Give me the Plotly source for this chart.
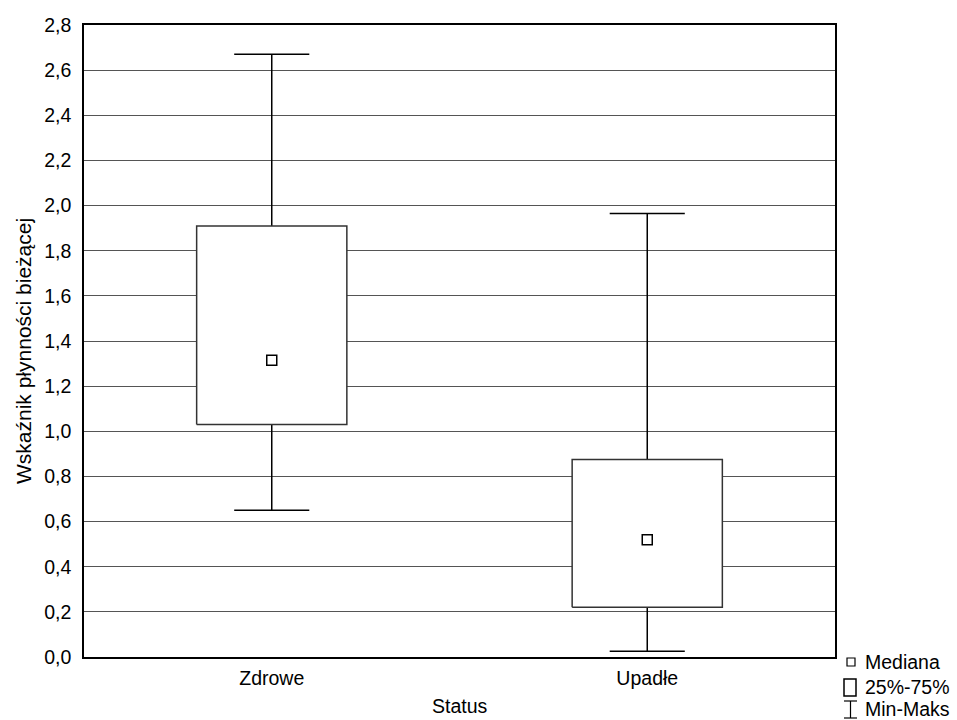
import plotly.graph_objects as go

categories = ["Zdrowe", "Upadłe"]
minimum = [0.65, 0.025]
q1 = [1.03, 0.22]
median = [1.315, 0.52]
q3 = [1.91, 0.875]
maximum = [2.67, 1.965]
y_ticks = [0.0, 0.2, 0.4, 0.6, 0.8, 1.0, 1.2, 1.4, 1.6, 1.8, 2.0, 2.2, 2.4, 2.6, 2.8]

FONT = "Liberation Sans, Arial, sans-serif"
FS = 19.5
box_half = 0.2
cap_half = 0.1

L, R, T, B = 84, 835, 25, 657
PW, PH = R - L, B - T


def px(x):
    return (x - L) / PW


def py(y):
    return (B - y) / PH


fig = go.Figure()
xs = list(range(len(categories)))

# whiskers (behind boxes)
wx, wy = [], []
for i in xs:
    wx += [i, i, None, i - cap_half, i + cap_half, None, i, i, None, i - cap_half, i + cap_half, None]
    wy += [q3[i], maximum[i], None, maximum[i], maximum[i], None, q1[i], minimum[i], None, minimum[i], minimum[i], None]
fig.add_trace(go.Scatter(x=wx, y=wy, mode="lines", line=dict(color="black", width=1.5),
                         hoverinfo="skip", showlegend=False))

# boxes
for i in xs:
    fig.add_trace(go.Scatter(
        x=[i - box_half, i + box_half, i + box_half, i - box_half, i - box_half],
        y=[q1[i], q1[i], q3[i], q3[i], q1[i]],
        mode="lines", fill="toself", fillcolor="white",
        line=dict(color="#333333", width=1.5), showlegend=False, hoverinfo="skip"))

# medians
fig.add_trace(go.Scatter(x=xs, y=median, mode="markers",
                         marker=dict(symbol="square-open", size=10, color="black",
                                     line=dict(width=1.5, color="black")),
                         showlegend=False))

fig.update_layout(
    width=957, height=720,
    margin=dict(l=L, r=957 - R, t=T, b=720 - B),
    paper_bgcolor="white", plot_bgcolor="white",
    separators=",.",
    font=dict(family=FONT, size=FS, color="black"),
    showlegend=False,
)
fig.update_xaxes(range=[-0.5, 1.5], tickvals=xs, ticktext=categories, showgrid=False,
                 zeroline=False, showline=True, linecolor="black", linewidth=1.5, mirror=True,
                 ticks="", ticklabelstandoff=3, tickfont=dict(family=FONT, size=FS))
fig.update_yaxes(range=[0, 2.8], tickvals=y_ticks, tickformat=".1f", showgrid=True,
                 gridcolor="#555555", gridwidth=1, zeroline=False, showline=True,
                 linecolor="black", linewidth=1.5, mirror=True, ticks="",
                 ticklabelstandoff=7, tickfont=dict(family=FONT, size=FS))

# axis titles
fig.add_annotation(text="Wskaźnik płynności bieżącej", xref="paper", yref="paper",
                   x=px(23), y=py(351), textangle=-90, showarrow=False,
                   font=dict(family=FONT, size=21), xanchor="center", yanchor="middle")
fig.add_annotation(text="Status", xref="paper", yref="paper", x=px(460), y=py(719),
                   showarrow=False, font=dict(family=FONT, size=FS), yanchor="bottom")

# legend (bottom right)
fig.add_shape(type="rect", xref="paper", yref="paper", x0=px(847), x1=px(855),
              y0=py(666), y1=py(658), line=dict(color="black", width=1.2))
fig.add_shape(type="rect", xref="paper", yref="paper", x0=px(844), x1=px(856),
              y0=py(696), y1=py(679), line=dict(color="black", width=1.5))
fig.add_shape(type="line", xref="paper", yref="paper", x0=px(844), x1=px(857),
              y0=py(701), y1=py(701), line=dict(color="black", width=1.2))
fig.add_shape(type="line", xref="paper", yref="paper", x0=px(850.5), x1=px(850.5),
              y0=py(701), y1=py(718), line=dict(color="black", width=1.2))
fig.add_shape(type="line", xref="paper", yref="paper", x0=px(844), x1=px(857),
              y0=py(718), y1=py(718), line=dict(color="black", width=1.2))
for label, yc in [("Mediana", 662), ("25%-75%", 687), ("Min-Maks", 709)]:
    fig.add_annotation(text=label, xref="paper", yref="paper", x=px(863),
                       y=py(yc), xanchor="left", yanchor="middle", showarrow=False,
                       font=dict(family=FONT, size=FS))

fig.write_html("out.html", config={"displayModeBar": False},
               post_script="document.body.style.margin='0';document.body.style.overflow='hidden';")
